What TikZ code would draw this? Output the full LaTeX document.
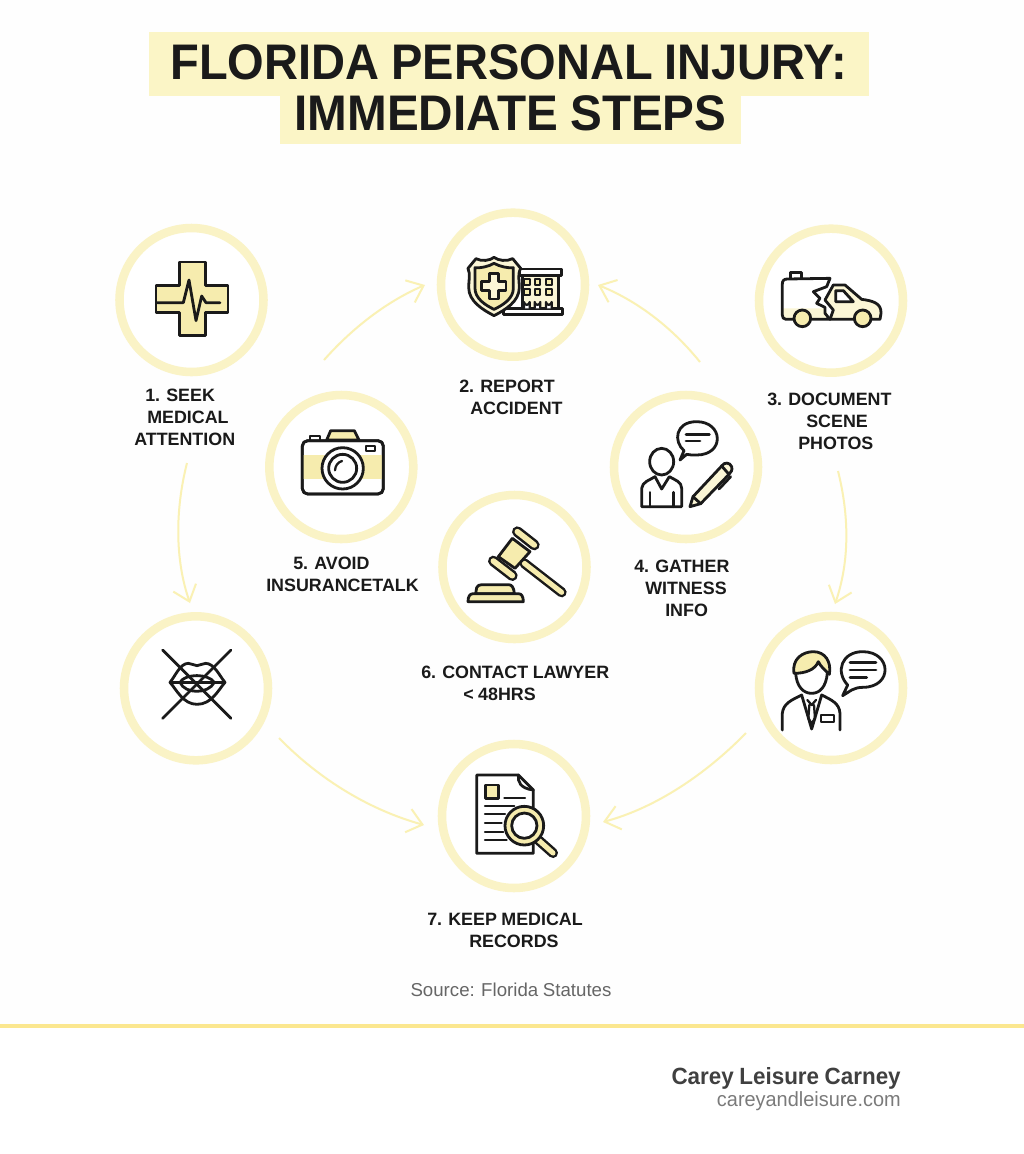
\documentclass[tikz,border=0pt]{standalone}
\usepackage{fontspec}
\setmainfont{Liberation Sans}[WordSpace=0.9]
\usetikzlibrary{arrows.meta}
\definecolor{ring}{HTML}{FAF3C6}
\definecolor{arrowc}{HTML}{FAF1B4}
\definecolor{hl}{HTML}{FBF5C6}
\definecolor{ink}{HTML}{1A1A1A}
\definecolor{fillY}{HTML}{F6ECAE}
\definecolor{fillL}{HTML}{FBF6D6}
\definecolor{rule}{HTML}{FBE78F}
\newcommand\ofs[1]{\hspace*{#1\dimexpr0.75pt\relax}}
\tikzset{
  stepcircle/.style={circle,draw=ring,line width=6.4pt,fill=white,minimum size=108pt,inner sep=0pt},
  steplabel/.style={anchor=north west,inner sep=0pt,align=left,text=ink,font=\fontsize{13.4}{16.5}\selectfont\bfseries},
  flowarrow/.style={draw=arrowc,line width=1.5pt,-{Straight Barb[length=11pt,width=18pt,line width=1.5pt]}},
  titlebar/.style={fill=hl,inner sep=0pt,text=ink,font=\fontsize{37.5}{40}\selectfont\bfseries},
  ico/.style={draw=ink,line width=2.1pt,line join=round,line cap=round},
  icothin/.style={draw=ink,line width=1.7pt,line join=round,line cap=round},
  iconbox/.style={x=.25pt,y=-.25pt},
  barout/.style={draw=ink,line cap=round},
  barin/.style={draw=fillY,line cap=round},
}
\begin{document}
\begin{tikzpicture}[x=.75pt,y=-.75pt]
\useasboundingbox (0,0) rectangle (1024,1154);
\fill[white!99.5!black] (0,0) rectangle (1024,1026);
% title
\node[titlebar,minimum width=540pt,text height=35.25pt,text depth=12.75pt] (t1) at (509,64) {\scalebox{.941}[1]{FLORIDA PERSONAL INJURY:}};
\node[titlebar,minimum width=345.75pt,text height=25.875pt,text depth=10.125pt] (t2) at (510.5,120) {\scalebox{.953}[1]{IMMEDIATE STEPS}};
% circles
\node[stepcircle] (c1) at (191.5,300) {};
\node[stepcircle] (c2) at (513,284.7) {};
\node[stepcircle] (c3) at (831,300.7) {};
\node[stepcircle] (c5) at (341.3,467) {};
\node[stepcircle] (c4) at (686,467) {};
\node[stepcircle] (c6) at (514.5,567) {};
\node[stepcircle] (c8) at (196,688.3) {};
\node[stepcircle] (c9) at (831,688) {};
\node[stepcircle] (c7) at (514,816) {};
% arrow ends
\coordinate (a1) at (324,360); \coordinate (a2) at (425,285);
\coordinate (b1) at (700,362); \coordinate (b2) at (598,285);
\coordinate (d1) at (187,463); \coordinate (d2) at (190,603);
\coordinate (e1) at (838,471); \coordinate (e2) at (835,604);
\coordinate (f1) at (279,738); \coordinate (f2) at (424,825);
\coordinate (g1) at (746,733); \coordinate (g2) at (603,822);
\draw[flowarrow] (a1) .. controls (355,325) and (390,300) .. (a2);
\draw[flowarrow] (b1) .. controls (670,325) and (635,300) .. (b2);
\draw[flowarrow] (d1) .. controls (175,510) and (175,560) .. (d2);
\draw[flowarrow] (e1) .. controls (849,515) and (850,560) .. (e2);
\draw[flowarrow] (f1) .. controls (320,780) and (370,810) .. (f2);
\draw[flowarrow] (g1) .. controls (705,775) and (655,808) .. (g2);
% labels
\node[steplabel] (l1) at (134,388.5) {\ofs{11}1. SEEK\\\ofs{13}MEDICAL\\ATTENTION};
\node[steplabel] (l2) at (459,379.5) {2. REPORT\\\ofs{11}ACCIDENT};
\node[steplabel] (l3) at (767,392.5) {3. DOCUMENT\\\ofs{39}SCENE\\\ofs{31}PHOTOS};
\node[steplabel] (l5) at (266,556.5) {\ofs{27}5. AVOID\\INSURANCETALK};
\node[steplabel] (l4) at (634,559.5) {4. GATHER\\\ofs{11}WITNESS\\\ofs{31}INFO};
\node[steplabel] (l6) at (421,665.5) {6. CONTACT LAWYER\\\ofs{42}< 48HRS};
\node[steplabel] (l7) at (427,912.5) {7. KEEP MEDICAL\\\ofs{42}RECORDS};
% footer
\node[inner sep=0pt,text=black!60,font=\fontsize{14}{16}\selectfont] (src) at (511,990) {Source: Florida Statutes};
\fill[rule] (0,1024) rectangle (1024,1027.5);
\node[anchor=east,inner sep=0pt,text=black!75,font=\fontsize{17.6}{20}\selectfont\bfseries] (brand) at (901,1078) {\scalebox{.955}[1]{Carey Leisure Carney}};
\node[anchor=east,inner sep=0pt,text=black!52,font=\fontsize{15.4}{18}\selectfont] (site) at (901,1101) {\scalebox{.97}[1]{careyandleisure.com}};
% icon 1: medical cross
\begin{scope}[shift={(100,200)},iconbox]
\filldraw[ico,fill=fillY] (238,186) -- (316,186) -- (316,257) -- (384,257) -- (384,337) -- (316,337) -- (316,407) -- (238,407) -- (238,337) -- (168,337) -- (168,257) -- (238,257) -- cycle;
\draw[ico] (172,308) -- (250,308) -- (267,240) -- (288,362) -- (305,288) -- (318,308) -- (360,308);
\end{scope}
% icon 2: shield and building
\begin{scope}[shift={(430,200)},iconbox]
\filldraw[ico,fill=white] (268,207) rectangle (395,227);
\filldraw[ico,fill=fillL] (278,227) rectangle (385,325);
\filldraw[ico,fill=white] (220,325) rectangle (398,343);
\foreach \cx in {282,314,348}{
  \foreach \cy in {237,268}{
    \filldraw[icothin,fill=fillY] (\cx,\cy) rectangle ++(17,17);
  }
  \filldraw[icothin,fill=white] (\cx,325) -- (\cx,306) arc[start angle=180,end angle=0,radius=8.5] -- (\cx+17,325);
}
\filldraw[ico,fill=fillL] (192,172) .. controls (205,182) and (230,185) .. (248,176) -- (272,205) .. controls (262,225) and (268,240) .. (268,262) .. controls (268,305) and (225,330) .. (192,347) .. controls (160,330) and (116,305) .. (116,262) .. controls (116,240) and (122,225) .. (114,205) -- (138,176) .. controls (155,185) and (180,182) .. (192,172) -- cycle;
\filldraw[ico,fill=fillY] (192,190) .. controls (210,200) and (235,205) .. (250,203) -- (250,265) .. controls (250,295) and (220,315) .. (192,328) .. controls (165,315) and (135,295) .. (135,265) -- (135,203) .. controls (150,205) and (175,200) .. (192,190) -- cycle;
\filldraw[ico,fill=fillL] (178,220) -- (205,220) -- (205,245) -- (228,245) -- (228,272) -- (205,272) -- (205,297) -- (178,297) -- (178,272) -- (155,272) -- (155,245) -- (178,245) -- cycle;
\end{scope}
% icon 3: crash
\begin{scope}[shift={(750,220)},iconbox]
\filldraw[ico,fill=white] (122,175) -- (122,158) -- (155,158) -- (155,175);
\fill[fillL] (97,265) -- (225,265) -- (240,298) -- (97,298) -- cycle;
\draw[ico] (130,298) -- (108,298) .. controls (100,298) and (97,292) .. (97,285) -- (97,192) .. controls (97,182) and (102,177) .. (112,177) -- (240,175) -- (230,200) -- (190,215) -- (210,235) -- (200,250) -- (225,262) -- (225,280) -- (240,298) -- (185,298);
\filldraw[ico,fill=fillL] (240,298) -- (250,270) -- (225,240) -- (250,195) -- (285,195) -- (335,238) .. controls (365,242) and (395,248) .. (393,280) -- (390,298) -- (240,298) -- cycle;
\filldraw[ico,fill=white] (257,212) -- (280,212) -- (310,245) -- (257,245) -- cycle;
\filldraw[ico,fill=fillY] (157,295) circle[radius=25];
\filldraw[ico,fill=fillY] (338,295) circle[radius=25];
\end{scope}
% icon 5: camera
\begin{scope}[shift={(260,385)},iconbox]
\filldraw[ico,fill=fillY] (200,165) -- (212,137) -- (283,137) -- (297,165) -- cycle;
\filldraw[ico,fill=white] (150,167) -- (150,153) -- (180,153) -- (180,167);
\filldraw[ico,fill=white,rounded corners=4pt] (127,167) rectangle (370,327);
\fill[fillY] (128,210) rectangle (369,283);
\draw[ico,rounded corners=4pt] (127,167) rectangle (370,327);
\draw[icothin] (318,182) rectangle (345,198);
\filldraw[ico,fill=white] (248,250) circle[radius=62];
\filldraw[ico,fill=white] (248,250) circle[radius=42];
\draw[icothin] (225,256) .. controls (226,242) and (233,232) .. (246,228);
\end{scope}
% icon 4: witness
\begin{scope}[shift={(605,385)},iconbox]
\draw[ico] (237,197) .. controls (205,170) and (210,110) .. (275,110) .. controls (355,110) and (360,210) .. (275,210) .. controls (262,210) and (252,210) .. (245,208) -- (225,225) -- (237,197) -- cycle;
\draw[ico] (243,148) -- (313,148) (243,168) -- (285,168);
\draw[ico] (170,230) ellipse[x radius=36,y radius=40];
\draw[ico] (110,365) -- (110,310) .. controls (112,290) and (135,285) .. (150,275) -- (170,312) -- (193,275) .. controls (210,285) and (230,290) .. (230,310) -- (230,365) -- cycle;
\draw[ico] (135,322) -- (135,365) (205,322) -- (205,365);
\filldraw[ico,fill=fillL] (255,365) -- (264,335) -- (350,243) .. controls (358,230) and (375,232) .. (380,245) .. controls (383,255) and (378,262) .. (372,268) -- (287,356) -- cycle;
\draw[ico] (264,335) -- (287,356) (350,243) -- (372,268);
\draw[ico] (342,312) -- (377,275);
\end{scope}
% icon 6: gavel
\begin{scope}[shift={(435,485)},iconbox]
\draw[barout,line width=7.5pt] (268,235) -- (380,322);
\draw[barin,line width=3.8pt] (268,235) -- (380,322);
\filldraw[ico,fill=fillY] (232,160) -- (285,200) -- (240,250) -- (190,215) -- cycle;
\draw[barout,line width=8pt] (247,140) -- (298,180);
\draw[barin,line width=4.2pt] (247,140) -- (298,180);
\draw[barout,line width=8pt] (175,228) -- (232,272);
\draw[barin,line width=4.2pt] (175,228) -- (232,272);
\filldraw[ico,fill=fillY] (122,326) -- (125,308) .. controls (128,302) and (132,299) .. (140,299) -- (220,299) .. controls (230,299) and (236,305) .. (238,326) -- cycle;
\filldraw[ico,fill=fillY] (99,350) .. controls (99,335) and (104,326) .. (115,326) -- (250,326) .. controls (260,326) and (265,335) .. (265,350) -- cycle;
\end{scope}
% icon 8: crossed lips
\begin{scope}[shift={(115,605)},iconbox]
\draw[ico] (165,232) .. controls (180,215) and (195,175) .. (220,175) .. controls (230,175) and (238,182) .. (246,182) .. controls (254,182) and (262,175) .. (272,175) .. controls (298,175) and (315,215) .. (330,232) .. controls (310,255) and (290,298) .. (246,298) .. controls (205,298) and (185,255) .. (165,232) -- cycle;
\draw[ico] (165,232) -- (330,232);
\draw[ico] (195,232) .. controls (210,205) and (280,205) .. (298,232);
\draw[ico] (195,232) .. controls (210,268) and (280,268) .. (298,232);
\draw[ico] (143,135) -- (348,340) (348,135) -- (143,340);
\end{scope}
% icon 9: lawyer
\begin{scope}[shift={(750,605)},iconbox]
\filldraw[ico,fill=fillY] (132,205) .. controls (125,160) and (160,140) .. (190,140) .. controls (225,140) and (245,170) .. (238,208) .. controls (225,195) and (212,185) .. (205,170) .. controls (195,195) and (165,205) .. (132,205) -- cycle;
\draw[ico] (137,205) .. controls (140,245) and (160,265) .. (185,265) .. controls (210,265) and (228,245) .. (232,205);
\draw[ico] (97,375) -- (97,325) .. controls (100,295) and (125,285) .. (155,270) -- (185,372) -- (215,270) .. controls (245,285) and (268,295) .. (270,325) -- (270,375);
\draw[icothin] (172,285) -- (185,300) -- (198,285) (178,300) -- (175,340) -- (185,355) -- (195,340) -- (192,300);
\draw[icothin] (212,330) rectangle (252,350);
\draw[ico] (293,240) .. controls (255,200) and (275,140) .. (338,140) .. controls (425,140) and (430,247) .. (338,247) .. controls (325,247) and (315,250) .. (305,255) -- (278,272) -- (293,240) -- cycle;
\draw[ico] (300,173) -- (378,173) (300,195) -- (378,195) (300,217) -- (350,217);
\end{scope}
% icon 7: records
\begin{scope}[shift={(435,735)},iconbox]
\filldraw[ico,fill=white] (125,120) -- (250,120) -- (295,165) -- (295,355) -- (125,355) -- cycle;
\draw[ico] (250,120) .. controls (248,140) and (255,160) .. (295,165);
\filldraw[ico,fill=fillY] (152,150) rectangle (190,190);
\draw[icothin] (208,190) -- (270,190) (150,213) -- (238,213) (150,238) -- (210,238) (150,264) -- (200,264) (150,290) -- (205,290) (150,314) -- (215,314);
\draw[barout,line width=7.5pt] (310,315) -- (354,354);
\draw[barin,line width=3.8pt] (310,315) -- (354,354);
\filldraw[ico,fill=fillY] (268,272) circle[radius=58];
\filldraw[ico,fill=white] (268,272) circle[radius=38];
\end{scope}
\end{tikzpicture}
\end{document}
